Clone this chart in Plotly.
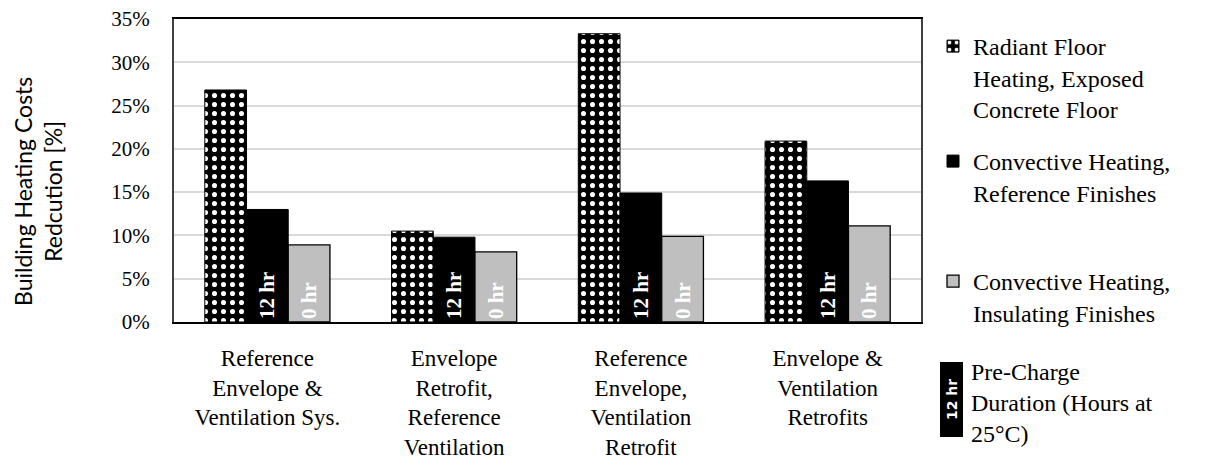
import plotly.graph_objects as go

categories = [
    "Reference<br>Envelope &<br>Ventilation Sys.",
    "Envelope<br>Retrofit,<br>Reference<br>Ventilation",
    "Reference<br>Envelope,<br>Ventilation<br>Retrofit",
    "Envelope &<br>Ventilation<br>Retrofits",
]
radiant = [26.8, 10.5, 33.3, 20.9]
conv_ref = [13.0, 9.8, 14.9, 16.3]
conv_ins = [8.9, 8.1, 9.9, 11.1]
series_names = [
    "Radiant Floor<br>Heating, Exposed<br>Concrete Floor",
    "Convective Heating,<br>Reference Finishes",
    "Convective Heating,<br>Insulating Finishes",
]
bar_labels = ["12 hr", "0 hr"]
y_ticks = [0, 5, 10, 15, 20, 25, 30, 35]
y_ticktext = ["0%", "5%", "10%", "15%", "20%", "25%", "30%", "35%"]
y_title = "Building Heating Costs<br>Redcution [%]"
precharge_text = "Pre-Charge<br>Duration (Hours at<br>25°C)"

SERIF = "Liberation Serif"
SANS = "Lato"

# page body has an 8px margin: figure is drawn at (8, 8)
OFF = 8
W, H = 1221 - OFF, 466 - OFF
PLOT_X0, PLOT_X1, PLOT_Y0, PLOT_Y1 = 174, 921, 19, 322  # page pixels
L = PLOT_X0 - OFF
R = W - (PLOT_X1 - OFF)
T = PLOT_Y0 - OFF
B = H - (PLOT_Y1 - OFF)
PW, PH = W - L - R, H - T - B


def px_x(x):
    return (x - PLOT_X0) / PW


def px_y(y):
    return (PLOT_Y1 - y) / PH


fig = go.Figure()

fig.add_trace(go.Bar(
    x=categories, y=radiant, name=series_names[0], legend="legend",
    marker=dict(color="black", line=dict(color="black", width=1),
                pattern=dict(shape=".", fgcolor="white", bgcolor="black",
                             size=9, solidity=0.25, fillmode="replace")),
))
fig.add_trace(go.Bar(
    x=categories, y=conv_ref, name=series_names[1], legend="legend2",
    marker=dict(color="black", line=dict(color="black", width=1)),
    text=[bar_labels[0]] * len(categories), textposition="inside",
    insidetextanchor="start", textangle=-90,
    insidetextfont=dict(family=SERIF, size=21, color="white", weight="bold"),
))
fig.add_trace(go.Bar(
    x=categories, y=conv_ins, name=series_names[2], legend="legend3",
    marker=dict(color="#bfbfbf", line=dict(color="black", width=1.3)),
    text=[bar_labels[1]] * len(categories), textposition="inside",
    insidetextanchor="start", textangle=-90,
    insidetextfont=dict(family=SERIF, size=21, color="white", weight="bold"),
))

fig.update_layout(
    width=W, height=H,
    font=dict(family=SERIF, size=23, color="black"),
    margin=dict(l=L, r=R, t=T, b=B, autoexpand=False),
    paper_bgcolor="white", plot_bgcolor="white",
    barmode="group", bargap=0.33, bargroupgap=0,
    showlegend=True,
)

for name, ypx in (("legend", 24), ("legend2", 139), ("legend3", 259)):
    fig.update_layout({name: dict(
        font=dict(family=SERIF, size=24, color="black"),
        bgcolor="rgba(0,0,0,0)", borderwidth=0, valign="top",
        xanchor="left", yanchor="top", x=px_x(933), y=px_y(ypx),
    )})

fig.update_xaxes(
    showline=True, linecolor="black", linewidth=2, mirror=True,
    ticks="", tickfont=dict(family=SERIF, size=23, color="black"),
    ticklabelstandoff=14, automargin=False,
)
fig.update_yaxes(
    range=[0, 35], tickmode="array", tickvals=y_ticks, ticktext=y_ticktext,
    showgrid=True, gridcolor="#d9d9d9", gridwidth=2,
    showline=True, linecolor="#404040", linewidth=2, mirror=True,
    ticks="", tickfont=dict(family=SERIF, size=21, color="black"),
    ticklabelstandoff=18, ticklabeloverflow="allow",
    zeroline=False, automargin=False,
)

# y-axis title
fig.add_annotation(
    text=y_title, xref="paper", yref="paper",
    x=px_x(38), y=px_y(192), xanchor="center", yanchor="middle",
    textangle=-90, showarrow=False,
    font=dict(family=SANS, size=23, color="black"),
)

# Pre-charge legend entry
fig.add_shape(
    type="rect", xref="paper", yref="paper",
    x0=px_x(940), x1=px_x(963), y0=px_y(437), y1=px_y(362),
    fillcolor="black", line=dict(width=0),
)
fig.add_annotation(
    text="<b>" + bar_labels[0] + "</b>", xref="paper", yref="paper",
    x=px_x(951.5), y=px_y(399.5), xanchor="center", yanchor="middle",
    textangle=-90, showarrow=False,
    font=dict(family="DejaVu Sans", size=14, color="white"),
)
fig.add_annotation(
    text=precharge_text, xref="paper", yref="paper", align="left",
    x=px_x(969), y=px_y(403), xanchor="left", yanchor="middle",
    showarrow=False,
    font=dict(family=SERIF, size=24, color="black"),
)

fig.write_html("out.html")
